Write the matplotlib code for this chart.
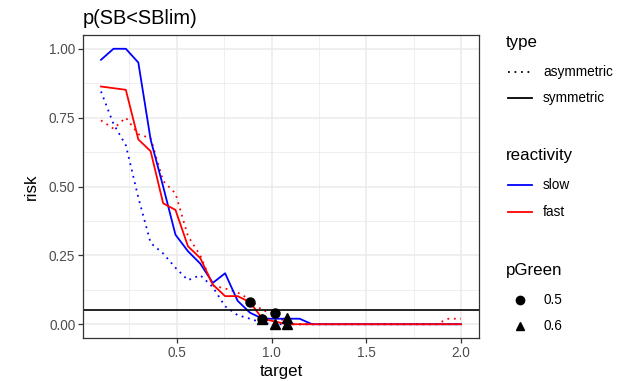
import numpy as np
import matplotlib
matplotlib.use("Agg")
from matplotlib import pyplot as plt
from matplotlib.lines import Line2D

plt.rcParams['font.family'] = ['Liberation Sans', 'DejaVu Sans']

target = [0.100, 0.166, 0.231, 0.297, 0.362, 0.428, 0.493, 0.559, 0.624, 0.690,
          0.755, 0.821, 0.886, 0.952, 1.017, 1.083, 1.148, 1.214, 1.279, 1.345,
          1.410, 1.476, 1.541, 1.607, 1.672, 1.738, 1.803, 1.869, 1.934, 2.000]

# risk per target, one list per reactivity x type
slow_sym = [0.96, 1.0, 1.0, 0.95, 0.67, 0.50, 0.325, 0.265, 0.22, 0.15,
            0.185, 0.085, 0.042, 0.02, 0.02, 0.02, 0.02, 0, 0, 0,
            0, 0, 0, 0, 0, 0, 0, 0, 0, 0]
fast_sym = [0.863, 0.857, 0.851, 0.671, 0.628, 0.439, 0.415, 0.283, 0.24, 0.144,
            0.102, 0.102, 0.08, 0.02, 0.01, 0, 0, 0, 0, 0,
            0, 0, 0, 0, 0, 0, 0, 0, 0, 0]
slow_asym = [0.845, 0.727, 0.65, 0.46, 0.295, 0.257, 0.205, 0.16, 0.178, 0.135,
             0.065, 0.033, 0.02, 0.005, 0, 0, 0, 0, 0, 0,
             0, 0, 0, 0, 0, 0, 0, 0, 0, 0]
fast_asym = [0.74, 0.71, 0.75, 0.69, 0.675, 0.52, 0.475, 0.32, 0.25, 0.14,
             0.13, 0.115, 0.09, 0.05, 0.04, 0, 0, 0, 0, 0,
             0, 0, 0, 0, 0, 0, 0, 0, 0.02, 0.02]

# points where risk falls below the limit
pg05_x = [0.886, 0.952, 1.017]
pg05_y = [0.082, 0.02, 0.042]
pg06_x = [0.952, 1.017, 1.083, 1.083]
pg06_y = [0.02, 0.0, 0.022, 0.0]

limit = 0.05

W, H = 620, 381
fig = plt.figure(figsize=(W / 100, H / 100), dpi=100)
ax = fig.add_axes([83 / W, 1 - 338 / H, (479 - 83) / W, (338 - 35) / H])

blue, red = '#0000FF', '#FF0000'
dot = (0, (1, 2.6))
lw = 1.3
ax.plot(target, slow_asym, color=blue, lw=lw, ls=dot)
ax.plot(target, fast_asym, color=red, lw=lw, ls=dot)
ax.plot(target, slow_sym, color=blue, lw=lw)
ax.plot(target, fast_sym, color=red, lw=lw)
ax.axhline(limit, color='black', lw=1.2)
ax.plot(pg05_x, pg05_y, 'o', color='black', ms=6.5, ls='none')
ax.plot(pg06_x, pg06_y, '^', color='black', ms=6.5, ls='none')

ax.set_xlim(0.1 - 0.095, 2.0 + 0.095)
ax.set_ylim(-0.05, 1.05)
ax.set_xticks([0.5, 1.0, 1.5, 2.0])
ax.set_xticklabels(['0.5', '1.0', '1.5', '2.0'])
ax.set_yticks([0, 0.25, 0.5, 0.75, 1.0])
ax.set_yticklabels(['0.00', '0.25', '0.50', '0.75', '1.00'])
ax.set_xticks([0.25, 0.75, 1.25, 1.75], minor=True)
ax.set_yticks([0.125, 0.375, 0.625, 0.875], minor=True)
ax.grid(which='major', color='#EBEBEB', lw=1.1)
ax.grid(which='minor', color='#EBEBEB', lw=0.55)
ax.set_axisbelow(True)
for s in ax.spines.values():
    s.set_color('#333333')
    s.set_linewidth(0.9)
ax.tick_params(which='major', length=3.5, width=0.9, color='#333333',
               labelsize=9.8, labelcolor='#4D4D4D', pad=2)
ax.tick_params(which='minor', length=0)
ax.set_xlabel('target', fontsize=12.2, labelpad=3)
ax.set_ylabel('risk', fontsize=12.2, labelpad=7)
ax.set_title('p(SB<SBlim)', fontsize=14.4, loc='left', pad=8)


def fx(x):
    return x / W


def fy(y):
    return 1 - y / H


def key_line(y, color, ls):
    fig.add_artist(Line2D([fx(508), fx(532)], [fy(y), fy(y)], color=color,
                          lw=lw, ls=ls, transform=fig.transFigure))


def key_label(y, text):
    fig.text(fx(543), fy(y), text, fontsize=9.8, va='center', ha='left')


def key_title(y, text):
    fig.text(fx(506), fy(y), text, fontsize=12.2, va='center', ha='left')


key_title(42, 'type')
key_line(72, 'black', dot)
key_label(72, 'asymmetric')
key_line(98, 'black', '-')
key_label(98, 'symmetric')

key_title(156, 'reactivity')
key_line(185, blue, '-')
key_label(185, 'slow')
key_line(212, red, '-')
key_label(212, 'fast')

key_title(271, 'pGreen')
fig.add_artist(Line2D([fx(520)], [fy(300)], marker='o', color='black', ms=6,
                      transform=fig.transFigure))
key_label(300, '0.5')
fig.add_artist(Line2D([fx(520)], [fy(326)], marker='^', color='black', ms=6,
                      transform=fig.transFigure))
key_label(326, '0.6')

fig.savefig('out.png', dpi=100)
